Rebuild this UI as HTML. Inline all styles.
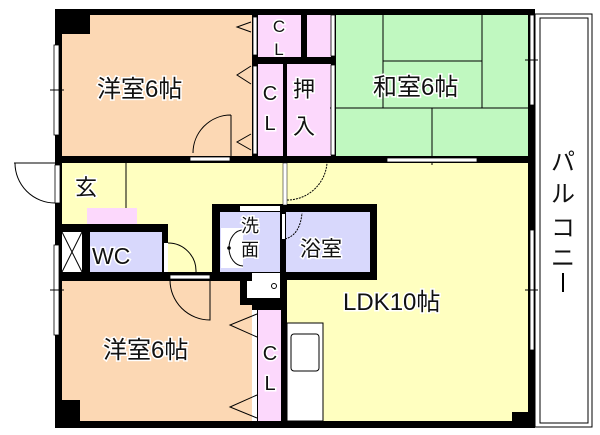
<!DOCTYPE html>
<html><head><meta charset="utf-8"><style>
html,body{margin:0;padding:0;background:#fff;}
svg{display:block;}
text{font-family:"Liberation Sans","Noto Sans CJK JP",sans-serif;fill:#111;stroke:#fff;stroke-width:3;paint-order:stroke;}
</style></head><body>
<svg width="600" height="435" viewBox="0 0 600 435" xmlns="http://www.w3.org/2000/svg">
<rect x="535" y="14" width="57" height="413" fill="#fff" stroke="#000" stroke-width="1"/>
<rect x="540" y="18" width="48" height="405" fill="none" stroke="#000" stroke-width="1"/>
<rect x="55" y="9" width="480" height="419" fill="#000"/>
<rect x="62" y="15" width="190" height="141" fill="#fcd8b4"/>
<rect x="336" y="15" width="192" height="142" fill="#c0f8c0"/>
<rect x="258" y="15" width="43" height="42" fill="#fcd8fc"/>
<rect x="307" y="15" width="24" height="42" fill="#fcd8fc"/>
<rect x="258" y="64" width="25" height="92" fill="#fcd8fc"/>
<rect x="287" y="64" width="44" height="92" fill="#fcd8fc"/>
<rect x="62" y="163" width="466" height="258" fill="#ffffc0"/>
<g stroke="#000" stroke-width="1">
<line x1="383" y1="15" x2="383" y2="108"/><line x1="482" y1="15" x2="482" y2="108"/>
<line x1="383" y1="61" x2="482" y2="61"/><line x1="330" y1="108" x2="528" y2="108"/>
<line x1="432" y1="108" x2="432" y2="165"/>
<line x1="126" y1="163" x2="126" y2="208"/>
</g>
<rect x="55" y="224" width="113" height="57" fill="#000"/>
<rect x="62" y="232" width="20" height="40" fill="#fff"/>
<path d="M62 232L82 272M82 232L62 272" stroke="#000" stroke-width="1"/>
<rect x="90" y="232" width="72" height="40" fill="#d8d8fc"/>
<rect x="87" y="208" width="50" height="16" fill="#fcd8fc"/>
<rect x="164" y="243" width="4" height="29" fill="#fff"/>
<rect x="62" y="281" width="190" height="140" fill="#fcd8b4"/>
<rect x="55" y="400" width="25" height="28" fill="#000"/>
<rect x="252" y="305" width="35" height="116" fill="#000"/>
<rect x="258" y="310" width="23" height="111" fill="#fcd8fc"/>
<rect x="252" y="310" width="5" height="111" fill="#fff"/>
<rect x="287" y="323" width="36" height="98" fill="#fff" stroke="#000" stroke-width="1"/>
<rect x="291" y="334" width="28" height="37" rx="3" fill="#fff" stroke="#000" stroke-width="1"/>
<rect x="212" y="204" width="165" height="76" fill="#000"/>
<rect x="220" y="212" width="60" height="60" fill="#d8d8fc"/>
<rect x="286" y="212" width="84" height="60" fill="#d8d8fc"/>
<rect x="221" y="228" width="22" height="40" fill="#fff"/>
<path d="M243 230 A14 18 0 0 0 243 266" fill="none" stroke="#000" stroke-width="1"/>
<circle cx="229" cy="248" r="1.8" fill="#000"/>
<rect x="240" y="272" width="47" height="33" fill="#000"/>
<rect x="247" y="273" width="33" height="25" fill="#fff"/>
<circle cx="274" cy="286" r="2.5" fill="#fff" stroke="#000" stroke-width="1"/>
<rect x="240" y="206" width="40" height="5" fill="#fff"/>
<rect x="282" y="214" width="3" height="25" fill="#fff"/>
<path d="M285 239 Q300 235 302 213" fill="none" stroke="#000" stroke-width="1" stroke-dasharray="2,1"/>
<rect x="55" y="156" width="480" height="7" fill="#000"/>
<rect x="252" y="15" width="6" height="141" fill="#000"/>
<rect x="252" y="57" width="84" height="7" fill="#000"/>
<rect x="283" y="57" width="4" height="106" fill="#000"/>
<rect x="301" y="15" width="6" height="42" fill="#000"/>
<rect x="283" y="163" width="4" height="42" fill="#fff" stroke="#000" stroke-width="0.5"/>
<rect x="55" y="9" width="35" height="25" fill="#000"/>
<rect x="512" y="412" width="16" height="12" fill="#000"/>
<rect x="55" y="272" width="197" height="9" fill="#000"/>
<g fill="#fff" stroke="#000" stroke-width="0.8">
<rect x="54" y="45" width="5" height="90"/>
<rect x="54" y="245" width="5" height="90"/>
<rect x="55" y="165" width="5" height="38"/>
<rect x="530" y="15" width="4" height="90"/>
<rect x="530" y="230" width="4" height="120"/>
<rect x="387" y="158" width="90" height="4"/>
<rect x="190" y="157" width="40" height="4"/>
<rect x="170" y="275" width="40" height="4"/>
<rect x="253" y="17" width="4" height="38"/>
<rect x="253" y="66" width="4" height="88"/>
<rect x="331" y="15" width="4" height="41"/>
<rect x="331" y="65" width="4" height="90"/>
</g>
<g stroke="#000" stroke-width="1" fill="none">
<line x1="50" y1="90" x2="64" y2="90"/><line x1="50" y1="290" x2="64" y2="290"/>
<line x1="525" y1="60" x2="538" y2="60"/><line x1="525" y1="290" x2="538" y2="290"/>
<path d="M231 115 A38 38 0 0 0 193 153 M231 115 L231 156"/>
<path d="M15 163 A40 40 0 0 0 55 203"/>
<path d="M14 163 L55 163"/>
<path d="M168 243 A28 28 0 0 1 196 272"/>
<path d="M170 280 A40 40 0 0 0 210 320 L210 280"/>
<path d="M287 200 A40 40 0 0 0 327 163" stroke-dasharray="2,1"/>
<path d="M251 22 L237 27 L251 32"/><path d="M251 66 L237 75 L251 84"/>
<path d="M251 134 L237 142 L251 150"/>
<path d="M257 314 L230 325 L257 337"/><path d="M257 395 L230 407 L257 418"/>
</g>
<text x="97" y="97" font-size="24">洋室6帖</text>
<text x="103" y="358" font-size="24">洋室6帖</text>
<text x="373" y="95" font-size="24">和室6帖</text>
<text x="343" y="310" font-size="24">LDK10帖</text>
<text x="92" y="264" font-size="23">WC</text>
<text x="75" y="195" font-size="22">玄</text>
<text x="300" y="256" font-size="21">浴室</text>
<text x="250" y="232" font-size="18" text-anchor="middle">洗</text>
<text x="250" y="256" font-size="18" text-anchor="middle">面</text>
<text x="293" y="97" font-size="22">押</text>
<text x="293" y="134" font-size="22">入</text>
<text x="279" y="32" font-size="17" text-anchor="middle">C</text>
<text x="279" y="55" font-size="17" text-anchor="middle">L</text>
<text x="270" y="100" font-size="20" text-anchor="middle">C</text>
<text x="270" y="130" font-size="20" text-anchor="middle">L</text>
<text x="270" y="360" font-size="20" text-anchor="middle">C</text>
<text x="270" y="390" font-size="20" text-anchor="middle">L</text>
<text x="563" y="170" font-size="24" text-anchor="middle">パ</text>
<text x="563" y="202" font-size="24" text-anchor="middle">ル</text>
<text x="563" y="236" font-size="24" text-anchor="middle">コ</text>
<text x="563" y="266" font-size="24" text-anchor="middle">ニ</text>
<line x1="563" y1="273" x2="563" y2="292" stroke="#000" stroke-width="2"/>
</svg>
</body></html>
